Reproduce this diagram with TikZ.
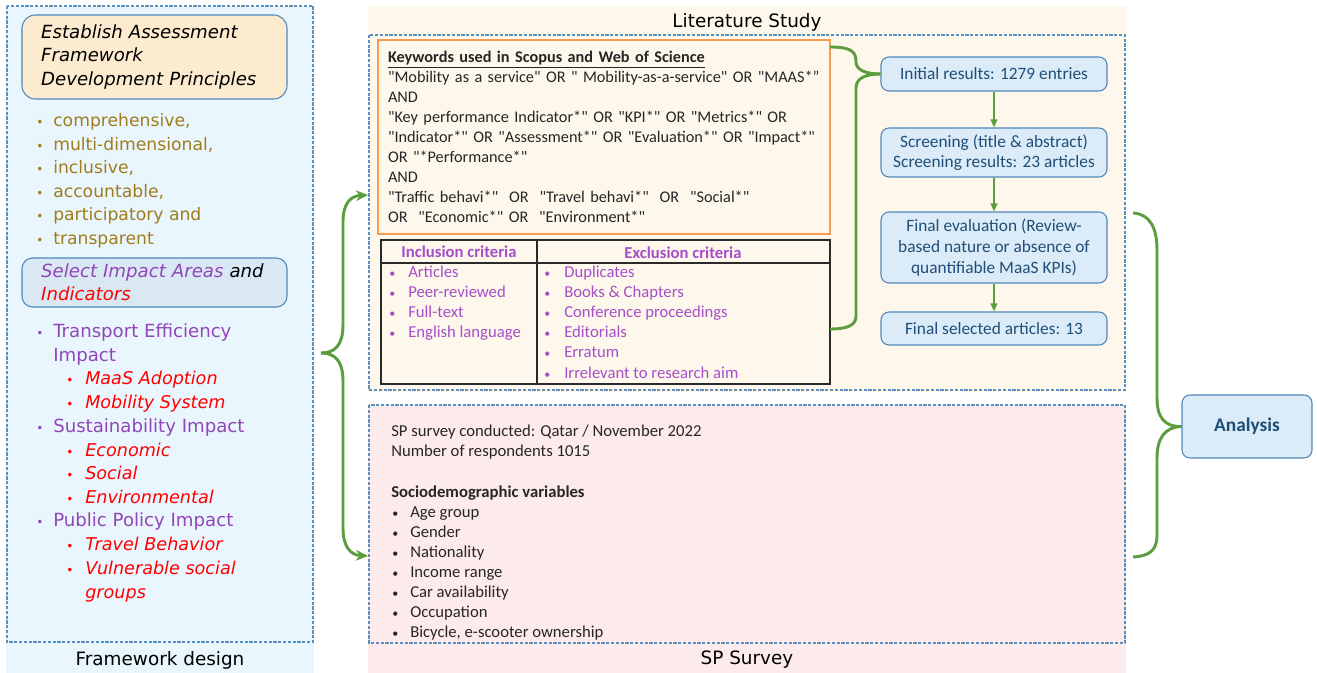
\documentclass[tikz,border=0pt]{standalone}
\usepackage{fontspec}
\setmainfont{Carlito}
\newfontfamily\kwfont{Carlito}[Ligatures=Common]
\newfontfamily\vfont{DejaVu Sans}
\usetikzlibrary{arrows.meta,positioning}

\definecolor{lblue}{HTML}{EAF6FD}
\definecolor{lcream}{HTML}{FEF8EC}
\definecolor{lpink}{HTML}{FDEBEB}
\definecolor{dashblue}{HTML}{5A8FC0}
\definecolor{boxblue}{HTML}{DBEBF7}
\definecolor{boxline}{HTML}{4F87B9}
\definecolor{navy}{HTML}{1F4E79}
\definecolor{olive}{HTML}{A07C1A}
\definecolor{lpurple}{HTML}{9046B8}
\definecolor{tabpurple}{HTML}{A44EC9}
\definecolor{brgreen}{HTML}{5A9E3E}
\definecolor{korange}{HTML}{F79A52}
\definecolor{porange}{HTML}{FDEBCF}
\definecolor{impfill}{HTML}{DAE8F4}
\definecolor{tabline}{HTML}{2A2A2A}
\definecolor{textgray}{HTML}{262626}

\begin{document}
\begin{tikzpicture}[x=0.75pt,y=-0.75pt,
    panel/.style={draw=dashblue,line width=0.8pt,dash pattern=on 2.4pt off 1.2pt},
    flowbox/.style={draw=boxline,fill=boxblue,line width=0.8pt,rounded corners=6pt,text=navy,align=center,
      minimum width=169.5pt,font=\fontsize{13}{15.5}\selectfont},
    brace/.style={draw=brgreen,line width=2.2pt},
    flow/.style={draw=brgreen,line width=1.3pt,-{Triangle[length=6pt,width=5pt]}}]

  \useasboundingbox (0,0) rectangle (1317,673);

  % panels
  \fill[lblue] (6,6) rectangle (314,673);
  \fill[lcream] (368,6) rectangle (1126,392);
  \fill[lpink] (368,405) rectangle (1126,673);
  \draw[panel] (7,6) rectangle (313,642);
  \draw[panel] (369,35) rectangle (1125,390);
  \draw[panel] (369,405) rectangle (1125,643);

  \begin{scope}[every node/.style={font=\vfont\fontsize{13.8}{16}\selectfont}]
    \node (fwt) at (160,660) {Framework design};
    \node (lst) at (747,22) {Literature Study};
    \node (spt) at (747,660) {SP Survey};
  \end{scope}

  % framework design
  \node[draw=boxline,fill=porange,line width=0.8pt,rounded corners=10pt,minimum width=198.75pt,minimum height=63pt,
    text width=170pt,align=left,font=\vfont\itshape\fontsize{13.6}{17.6}\selectfont] (prin) at (154.5,57)
    {Establish Assessment\\Framework\\Development Principles};

  \begin{scope}[every node/.style={anchor=base west,inner sep=0,text=olive,font=\vfont\fontsize{12.9}{14}\selectfont}]
    \foreach \y/\t [count=\i] in {127/{comprehensive,},151/{multi-dimensional,},174/{inclusive,},
        198/{accountable,},221/{participatory and},245/{transparent}}{
      \node (pb\i) at (36,\y) {\fontsize{9}{9}\selectfont•};
      \node (pt\i) at (53,\y) {\t};
    }
  \end{scope}

  \node[draw=boxline,fill=impfill,line width=0.8pt,rounded corners=8pt,minimum width=198.75pt,minimum height=36.75pt,
    text width=170pt,align=left,font=\vfont\itshape\fontsize{13.6}{17.6}\selectfont] (imp) at (154.5,282.5)
    {\textcolor{lpurple}{Select Impact Areas} and\\\textcolor{red}{Indicators}};

  \begin{scope}[every node/.style={anchor=base west,inner sep=0,text=lpurple,font=\vfont\fontsize{13.6}{14}\selectfont}]
    \foreach \y/\t [count=\i] in {338/{Transport Efficiency},432/{Sustainability Impact},526/{Public Policy Impact}}{
      \node (ib\i) at (36,\y) {\fontsize{9}{9}\selectfont•};
      \node (it\i) at (53,\y) {\t};
    }
    \node (it4) at (53,362) {Impact};
  \end{scope}

  \begin{scope}[every node/.style={anchor=base west,inner sep=0,text=red,font=\vfont\itshape\fontsize{13.2}{14}\selectfont}]
    \foreach \y/\t [count=\i] in {385/{MaaS Adoption},409/{Mobility System},456/{Economic},479/{Social},
        503/{Environmental},550/{Travel Behavior},574/{Vulnerable social}}{
      \node (sb\i) at (66,\y) {\upshape\fontsize{9}{9}\selectfont•};
      \node (st\i) at (85,\y) {\t};
    }
    \node (st8) at (85,598) {groups};
  \end{scope}

  % literature study
  \node[draw=korange,line width=1pt,minimum width=339pt,minimum height=145.5pt,text width=324pt,align=left,
    inner sep=0pt,text=textgray,font=\kwfont\fontsize{12.2}{15}\selectfont] (kw) at (604,137)
    {\underline{\textbf{Keywords used in Scopus and Web of Science}}\\
     "Mobility as a service" OR " Mobility-as-a-service" OR "MAAS*”\\
     AND\\
     "Key performance Indicator*" OR "KPI*" OR "Metrics*" OR\\
     "Indicator*" OR "Assessment*" OR "Evaluation*" OR "Impact*"\\
     OR "*Performance*"\\
     AND\\
     "Traffic behavi*"~ OR~ "Travel behavi*"~ OR~ "Social*"\\
     OR~ "Economic*" OR~ "Environment*"};

  \node[draw=tabline,line width=1pt,minimum width=336.75pt,minimum height=108pt] (crit) at (605.5,312) {};
  \draw[tabline,line width=1pt] (381,263) -- (830,263);
  \draw[tabline,line width=1pt] (537,240) -- (537,384);

  \begin{scope}[every node/.style={text=tabpurple,font=\bfseries\fontsize{12.5}{14}\selectfont}]
    \node (inh) at (459,252) {Inclusion criteria};
    \node (exh) at (683,253) {Exclusion criteria};
  \end{scope}

  \begin{scope}[every node/.style={anchor=base west,inner sep=0,text=tabpurple,font=\fontsize{12.5}{14}\selectfont}]
    \foreach \y/\t [count=\i] in {278/Articles,298/Peer-reviewed,318/Full-text,338/English language}{
      \node (ib\i) at (389,\y) {\fontsize{9}{9}\selectfont•};
      \node (it\i) at (408,\y) {\t};
    }
    \foreach \y/\t [count=\i] in {278/Duplicates,298/{Books \& Chapters},318/Conference proceedings,
        338/Editorials,358/Erratum,379/Irrelevant to research aim}{
      \node (eb\i) at (544,\y) {\fontsize{9}{9}\selectfont•};
      \node (et\i) at (564,\y) {\t};
    }
  \end{scope}

  \node[flowbox,minimum height=25.5pt] (b1) at (994,74) {Initial results: 1279 entries};
  \node[flowbox,minimum height=36.75pt] (b2) at (994,152.5) {Screening (title \& abstract)\\Screening results: 23 articles};
  \node[flowbox,minimum height=53.25pt] (b3) at (994,247.5) {Final evaluation (Review-\\based nature or absence of\\quantifiable MaaS KPIs)};
  \node[flowbox,minimum height=24.75pt] (b4) at (994,328.5) {Final selected articles: 13};

  \draw[flow] (b1) -- (b2);
  \draw[flow] (b2) -- (b3);
  \draw[flow] (b3) -- (b4);

  \coordinate (kwtop) at (830,47);
  \coordinate (critend) at (830,329);
  \draw[brace] (kwtop) .. controls (852,47) and (856,52) .. (856,62) .. controls (856,70) and (866,74) .. (b1.west);
  \draw[brace] (b1.west) .. controls (866,74) and (856,78) .. (856,88) -- (856,316) .. controls (856,325) and (848,329) .. (critend);

  % sp survey
  \begin{scope}[every node/.style={anchor=base west,inner sep=0,text=textgray,font=\fontsize{12.5}{14}\selectfont}]
    \node (sp1) at (391,436) {SP survey conducted: Qatar / November 2022};
    \node (sp2) at (391,456) {Number of respondents 1015};
    \node (sp3) at (391,497) {\textbf{Sociodemographic variables}};
    \foreach \y/\t [count=\i] in {517/Age group,537/Gender,557/Nationality,577/Income range,
        597/Car availability,617/Occupation,637/{Bicycle, e-scooter ownership}}{
      \node (vb\i) at (392,\y) {\fontsize{9}{9}\selectfont•};
      \node (vt\i) at (410,\y) {\t};
    }
  \end{scope}

  % analysis
  \node[flowbox,minimum width=97.5pt,minimum height=47.25pt,font=\bfseries\fontsize{14.5}{16}\selectfont] (ana) at (1247,426.5) {Analysis};

  \coordinate (ltip) at (321,353);
  \coordinate (litin) at (368,195);
  \coordinate (spin) at (368,556);
  \draw[brace,-{Stealth[length=9pt,width=8pt]}] (ltip) .. controls (335,353) and (343,345) .. (343,325) -- (343,222) .. controls (343,204) and (350,196) .. (litin);
  \draw[brace,-{Stealth[length=9pt,width=8pt]}] (ltip) .. controls (335,353) and (343,361) .. (343,381) -- (343,528) .. controls (343,546) and (350,555) .. (spin);

  \coordinate (rtop) at (1133,213);
  \coordinate (rbot) at (1133,557);
  \draw[brace] (rtop) .. controls (1150,214) and (1157,228) .. (1157,250) -- (1157,398) .. controls (1157,418) and (1165,427) .. (ana.west);
  \draw[brace] (ana.west) .. controls (1165,427) and (1157,438) .. (1157,458) -- (1157,535) .. controls (1157,550) and (1150,556) .. (rbot);

\end{tikzpicture}
\end{document}
